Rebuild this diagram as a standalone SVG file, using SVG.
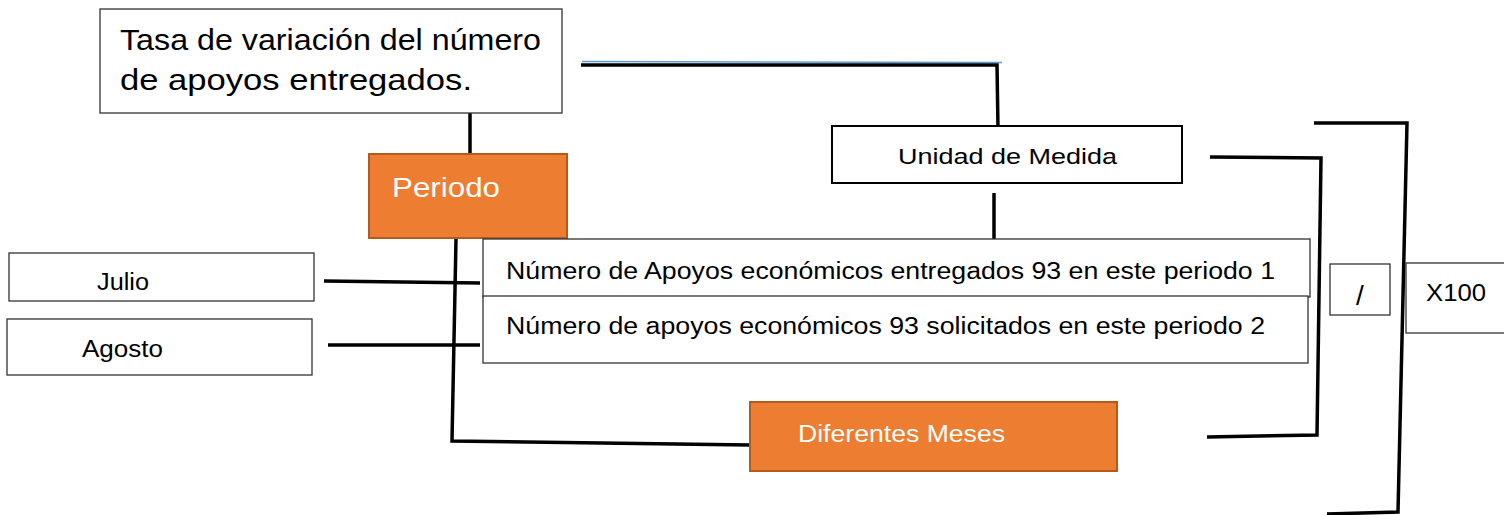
<svg xmlns="http://www.w3.org/2000/svg" width="1504" height="515" viewBox="0 0 1504 515">
<style>
.box{fill:#fff;stroke:#333;stroke-width:1.3}
.box2{fill:#fff;stroke:#000;stroke-width:2}
.org{fill:#ED7D31;stroke:#B35A1F;stroke-width:2}
.ar{font-family:"Liberation Sans",Arial,sans-serif}
.cb{font-family:"Liberation Sans",Arial,sans-serif;fill:#000}
.w{fill:#fff}
.cn{fill:none;stroke:#000;stroke-width:3.5;stroke-linejoin:miter}
</style>
<rect width="1504" height="515" fill="#fff"/>
<g id="connectors">
<line x1="582" y1="61.5" x2="1002" y2="62.5" stroke="#5B9BD5" stroke-width="1.5"/>
<polyline class="cn" points="581,65 997,65 998,129"/>
<line class="cn" x1="470" y1="100" x2="470" y2="153"/>
<line class="cn" x1="994" y1="193" x2="994" y2="250"/>
<polyline class="cn" points="456,239 452,441 750,445"/>
<line class="cn" x1="324" y1="281" x2="480" y2="283"/>
<line class="cn" x1="328" y1="345" x2="480" y2="345"/>
<polyline class="cn" points="1210,157 1321,158 1317,435 1207,437"/>
<polyline class="cn" points="1314,123 1407,123 1398,512 1327,514"/>
</g>
<g id="title">
<rect class="box" x="100" y="9" width="462" height="104"/>
<text class="ar" x="120" y="50" font-size="29" textLength="421" lengthAdjust="spacingAndGlyphs">Tasa de variación del número</text>
<text class="ar" x="120" y="90" font-size="29" textLength="352" lengthAdjust="spacingAndGlyphs">de apoyos entregados.</text>
</g>
<g id="periodo">
<rect class="org" x="369" y="154" width="198" height="84"/>
<text class="ar w" x="392" y="197" font-size="27" textLength="108" lengthAdjust="spacingAndGlyphs">Periodo</text>
</g>
<g id="unidad">
<rect class="box2" x="832" y="126" width="350" height="57"/>
<text class="cb" x="898" y="164" font-size="22" textLength="219" lengthAdjust="spacingAndGlyphs">Unidad de Medida</text>
</g>
<g id="numero1">
<rect class="box" x="483" y="239" width="827" height="58"/>
<text class="cb" x="506" y="279" font-size="23" textLength="769" lengthAdjust="spacingAndGlyphs">Número de Apoyos económicos entregados 93 en este periodo 1</text>
</g>
<g id="numero2">
<rect class="box" x="483" y="296" width="825" height="67"/>
<text class="cb" x="506" y="334" font-size="23" textLength="759" lengthAdjust="spacingAndGlyphs">Número de apoyos económicos 93 solicitados en este periodo 2</text>
</g>
<g id="julio">
<rect class="box" x="9" y="253" width="305" height="48"/>
<text class="cb" x="97" y="290" font-size="23" textLength="52" lengthAdjust="spacingAndGlyphs">Julio</text>
</g>
<g id="agosto">
<rect class="box" x="7" y="319" width="305" height="56"/>
<text class="cb" x="82" y="357" font-size="23" textLength="81" lengthAdjust="spacingAndGlyphs">Agosto</text>
</g>
<g id="diferentes">
<rect class="org" x="750" y="402" width="367" height="69"/>
<text class="cb w" x="798" y="442" font-size="23" textLength="207" lengthAdjust="spacingAndGlyphs">Diferentes Meses</text>
</g>
<g id="div">
<rect class="box" x="1330" y="264" width="60" height="51"/>
<text class="cb" x="1360" y="305" font-size="28" text-anchor="middle">/</text>
</g>
<g id="x100">
<rect class="box" x="1406" y="263" width="110" height="70"/>
<text class="cb" x="1426" y="301" font-size="24" textLength="60" lengthAdjust="spacingAndGlyphs">X100</text>
</g>
</svg>
